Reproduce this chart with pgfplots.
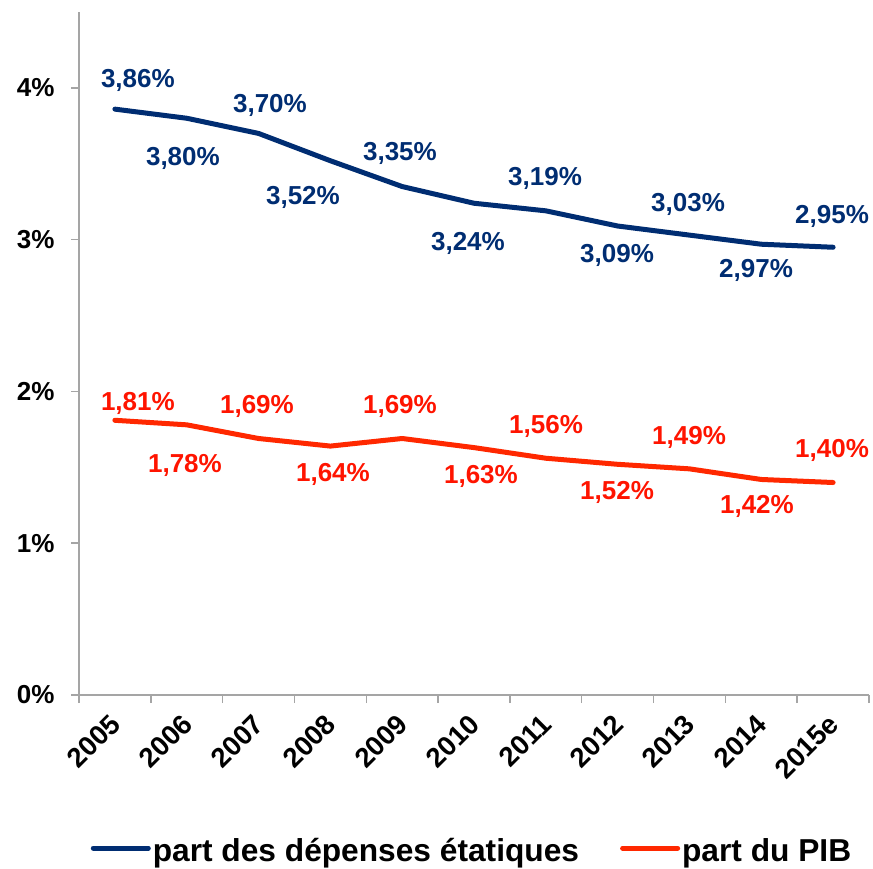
\documentclass[border=0pt]{standalone}
\usepackage{fontspec}
\setmainfont{Liberation Sans}
\usepackage{pgfplots}
\pgfplotsset{compat=1.18}
\usepackage{pgfplotstable}
\definecolor{navy}{RGB}{0,45,114}
\definecolor{lred}{RGB}{255,40,0}
\definecolor{tred}{RGB}{255,20,0}
\definecolor{axgray}{RGB}{165,165,165}
\newcommand{\bigf}{\bfseries\fontsize{26}{31}\selectfont}
\newcommand{\yearf}{\bfseries\fontsize{27.5}{33}\selectfont}
\newcommand{\legf}{\bfseries\fontsize{31.7}{38}\selectfont}

\pgfplotstableread{
x dep pib
0 3.86 1.81
1 3.80 1.78
2 3.70 1.69
3 3.52 1.64
4 3.35 1.69
5 3.24 1.63
6 3.19 1.56
7 3.09 1.52
8 3.03 1.49
9 2.97 1.42
10 2.95 1.40
}\data

\pgfplotstableread{
x y lbl
0.32 4.066 3,86\%
0.947 3.558 3,80\%
2.159 3.901 3,70\%
2.618 3.295 3,52\%
3.969 3.585 3,35\%
4.916 2.998 3,24\%
5.989 3.420 3,19\%
6.992 2.913 3,09\%
7.981 3.255 3,03\%
8.928 2.814 2,97\%
9.986 3.170 2,95\%
}\bluelbl

\pgfplotstableread{
x y lbl
0.32 1.944 1,81\%
0.975 1.535 1,78\%
1.978 1.918 1,69\%
3.036 1.470 1,64\%
3.969 1.918 1,69\%
5.097 1.463 1,63\%
6.003 1.792 1,56\%
6.992 1.357 1,52\%
7.994 1.720 1,49\%
8.94 1.265 1,42\%
9.986 1.628 1,40\%
}\redlbl

\begin{document}
\begin{tikzpicture}
\begin{axis}[
  scale only axis, width=790pt, height=683pt,
  xmin=-0.5, xmax=10.5, ymin=0, ymax=4.5,
  axis x line*=bottom, axis y line*=left,
  axis line style={axgray, line width=1.5pt, -},
  tick align=outside, major tick length=8pt,
  tick style={axgray, line width=1.5pt},
  xtick={-0.5,0.5,...,10.5}, xticklabels={},
  extra x ticks={0,1,...,10},
  extra x tick labels={2005,2006,2007,2008,2009,2010,2011,2012,2013,2014,2015e},
  extra x tick style={major tick length=0pt, tick label style={yshift=-22pt, xshift=3pt, rotate=45, anchor=east, font=\yearf}},
  ytick={0,1,2,3,4},
  yticklabels={0\%,1\%,2\%,3\%,4\%},
  y tick label style={font=\bigf, xshift=-13pt},
  legend style={at={(0.5,-0.227)}, xshift=-2pt, yshift=-1pt, anchor=center, draw=none, legend columns=2, font=\legf,
    /tikz/every even column/.append style={column sep=39pt}},
  legend image code/.code={\draw[#1, line width=5pt, line cap=round] (0pt,3pt) -- (55pt,3pt);},
]
\addplot[navy, line width=5pt, line cap=round, line join=round, mark=none] table[x=x,y=dep]{\data};
\addlegendentry{part des dépenses étatiques}
\addplot[lred, line width=5pt, line cap=round, line join=round, mark=none] table[x=x,y=pib]{\data};
\addlegendentry{part du PIB}
\addplot[draw=none, mark=none, forget plot, nodes near coords, point meta=explicit symbolic,
  every node near coord/.append style={anchor=center, yshift=-3pt, text=navy, font=\bigf, inner sep=0pt}]
  table[x=x,y=y,meta=lbl]{\bluelbl};
\addplot[draw=none, mark=none, forget plot, nodes near coords, point meta=explicit symbolic,
  every node near coord/.append style={anchor=center, yshift=-3pt, text=tred, font=\bigf, inner sep=0pt}]
  table[x=x,y=y,meta=lbl]{\redlbl};
\end{axis}
\pgfresetboundingbox
\path (current axis.south west) ++(-79pt,-173pt) rectangle ++(873pt,868pt);
\end{tikzpicture}
\end{document}
